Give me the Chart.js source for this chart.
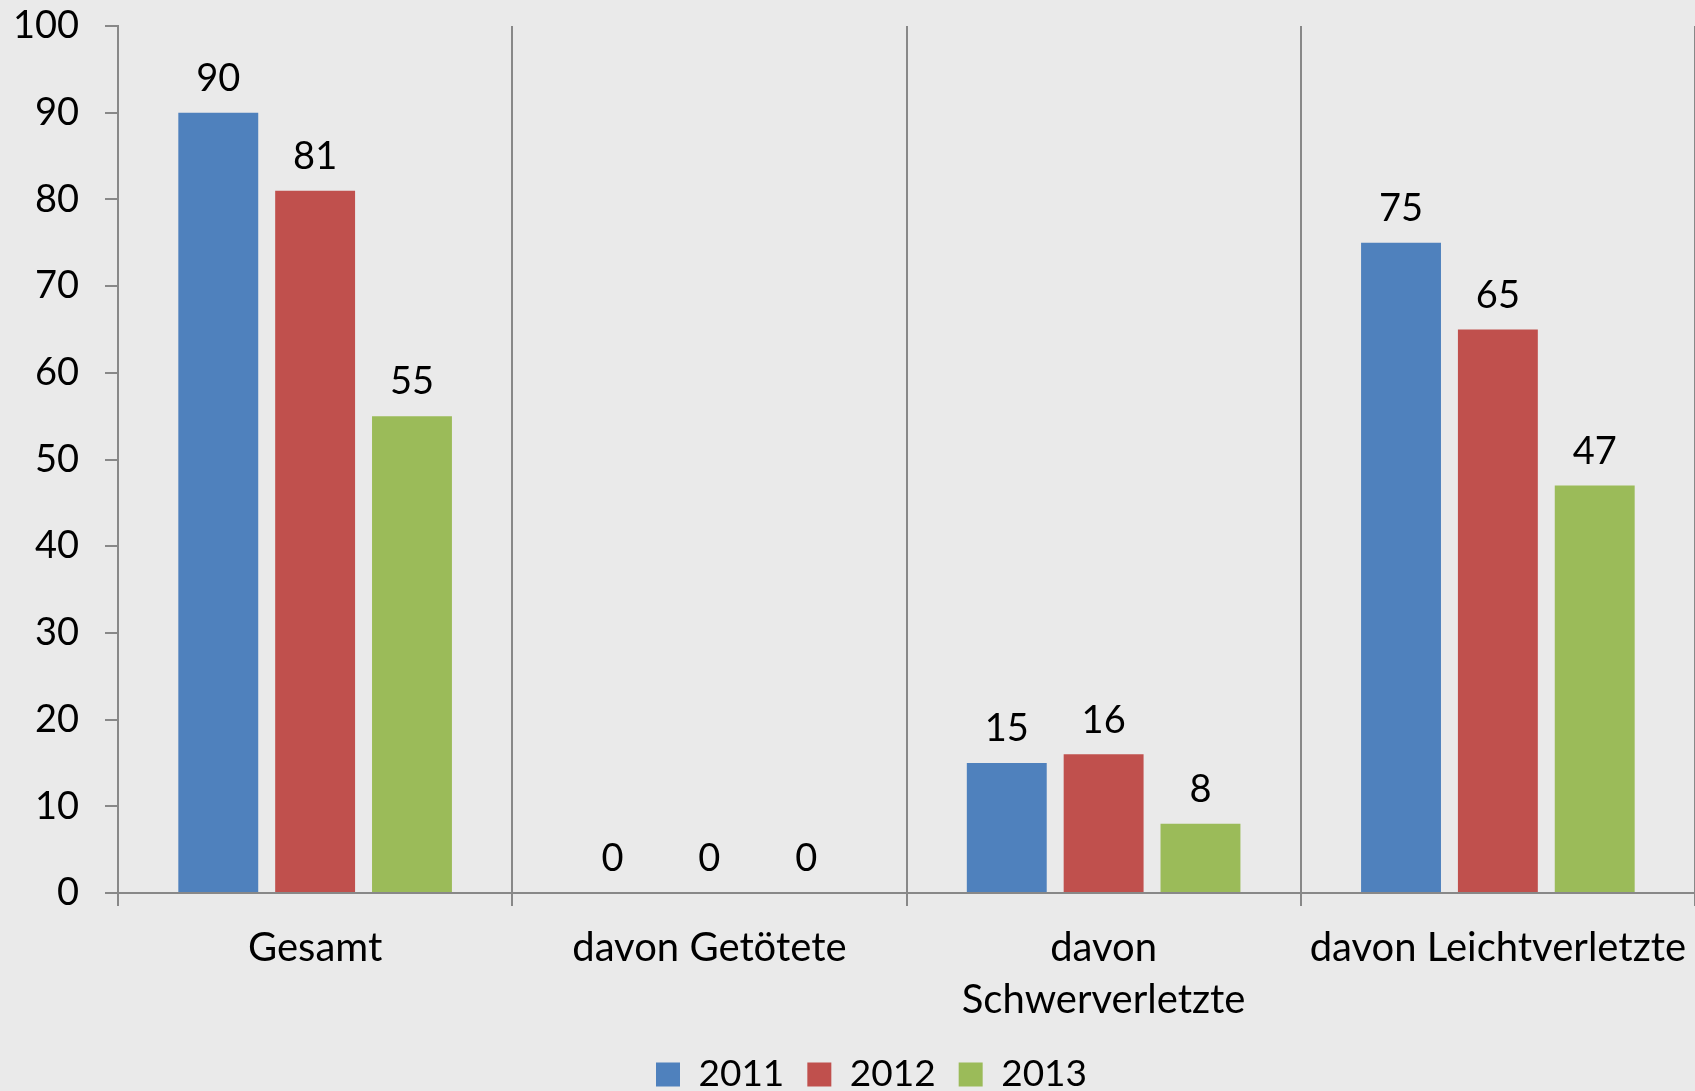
<!DOCTYPE html>
<html>
<head>
<meta charset="utf-8">
<script src="https://cdn.jsdelivr.net/npm/chart.js@4.4.1/dist/chart.umd.min.js"></script>
<style>
  html, body { margin: 0; padding: 0; background: #EAEAEA; overflow: hidden; }
  #wrap { width: 1695px; height: 1091px; position: relative; }
</style>
</head>
<body>
<div id="wrap"><canvas id="chart"></canvas></div>
<script>
// Verkehrsunfälle — Verunglückte nach Jahr
const categories = ['Gesamt', 'davon Getötete', ['davon', 'Schwerverletzte'], 'davon Leichtverletzte'];
const years = ['2011', '2012', '2013'];
const values2011 = [90, 0, 15, 75];
const values2012 = [81, 0, 16, 65];
const values2013 = [55, 0, 8, 47];
const yTicks = [0, 10, 20, 30, 40, 50, 60, 70, 80, 90, 100];

const COLORS = ['#4F81BD', '#C0504D', '#9BBB59'];
const AXIS = '#888888';
const FONT = "Lato, 'Open Sans', sans-serif";

Chart.defaults.font.family = FONT;
Chart.defaults.font.size = 37;
Chart.defaults.color = '#000';

// value labels above bars
const barLabels = {
  id: 'barLabels',
  afterDatasetsDraw(chart) {
    const ctx = chart.ctx;
    ctx.save();
    ctx.font = `38px ${FONT}`;
    ctx.fillStyle = '#000';
    ctx.textAlign = 'center';
    ctx.textBaseline = 'bottom';
    chart.data.datasets.forEach((ds, i) => {
      chart.getDatasetMeta(i).data.forEach((bar, j) => {
        ctx.fillText(String(ds.data[j]), bar.x, bar.y - 15);
      });
    });
    ctx.restore();
  }
};

// nudge the legend a little to the right, like the original
const legendShift = {
  id: 'legendShift',
  afterUpdate(chart) {
    if (chart.legend) chart.legend.left += 28;
  }
};

const series = [values2011, values2012, values2013];

new Chart(document.getElementById('chart'), {
  type: 'bar',
  data: {
    labels: categories,
    datasets: years.map((y, i) => ({
      label: y,
      data: series[i],
      backgroundColor: COLORS[i],
      borderWidth: 0,
      categoryPercentage: 0.737,
      barPercentage: 0.825,
    })),
  },
  options: {
    responsive: true, maintainAspectRatio: false,
    animation: false,
    layout: { padding: { left: 14, top: 26, right: -6, bottom: -12 } },
    plugins: {
      legend: {
        position: 'bottom',
        labels: { boxWidth: 24, boxHeight: 24, padding: 23, font: { size: 37 } },
      },
      tooltip: { enabled: false },
    },
    scales: {
      x: {
        grid: { color: AXIS, lineWidth: 2, offset: true, tickLength: 13 },
        border: { color: AXIS, width: 2 },
        ticks: { padding: 16, font: { size: 40, lineHeight: 1.3 }, maxRotation: 0, autoSkip: false },
        afterFit: s => { s.height -= 9; s.paddingLeft = 0; s.paddingRight = 0; },
      },
      y: {
        min: 0, max: 100,
        afterBuildTicks: s => { s.ticks = yTicks.map(v => ({ value: v })); },
        grid: { drawOnChartArea: false, color: AXIS, lineWidth: 2, tickLength: 13 },
        border: { color: AXIS, width: 2 },
        ticks: { padding: 26, font: { size: 38 } },
        afterFit: s => { s.width = 104; s.paddingTop = 0; s.paddingBottom = 0; },
      },
    },
  },
  plugins: [barLabels, legendShift],
});
</script>
</body>
</html>
